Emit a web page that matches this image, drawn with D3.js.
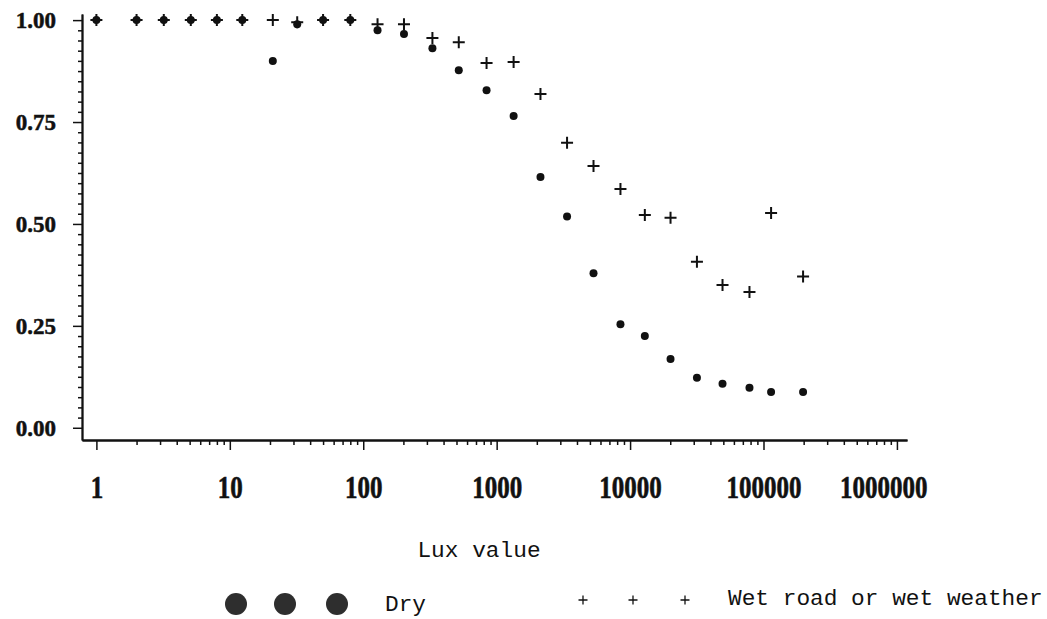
<!DOCTYPE html>
<html>
<head>
<meta charset="utf-8">
<script src="https://cdn.jsdelivr.net/npm/d3@7/dist/d3.min.js"></script>
<style>
  html, body { margin: 0; padding: 0; background: #ffffff; }
  svg { display: block; }
</style>
</head>
<body>
<svg id="chart" width="1047" height="619"></svg>
<script>
// Illuminance (lux) at which each share was measured
const luxValues = [1, 2, 3.2, 5.1, 8, 12.4, 21, 32, 50, 80, 128, 202, 330, 520, 840,
  1340, 2130, 3370, 5320, 8470, 12900, 20100, 31700, 49300, 78500, 114000, 198000];

// Share for dry conditions
const dryValues = [1.00, 1.00, 1.00, 1.00, 1.00, 1.00, 0.90, 0.99, 1.00, 1.00, 0.975, 0.966,
  0.931, 0.877, 0.828, 0.765, 0.615, 0.518, 0.379, 0.254, 0.225, 0.169, 0.123, 0.108,
  0.098, 0.088, 0.088];

// Share for wet road or wet weather
const wetValues = [1.00, 1.00, 1.00, 1.00, 1.00, 1.00, 1.00, 0.995, 1.00, 1.00, 0.99, 0.99,
  0.956, 0.946, 0.895, 0.897, 0.819, 0.699, 0.642, 0.586, 0.522, 0.515, 0.407, 0.350,
  0.333, 0.527, 0.371];

const seriesNames = ["Dry", "Wet road or wet weather"];
const xTickValues = [1, 10, 100, 1000, 10000, 100000, 1000000];
const yTickValues = [0, 0.25, 0.5, 0.75, 1.0];
const xAxisTitle = "Lux value";

const svg = d3.select("#chart");
const ink = "#111";

const x = d3.scaleLog().domain([0.78, 1.19e6]).range([82, 907]);
const y = d3.scaleLinear().domain([-0.03, 1.015]).range([440, 14]);

// minor ticks: 2..9 within each decade
const xMinor = [];
for (let e = 0; e < 6; e++) for (let m = 2; m <= 9; m++) xMinor.push(m * Math.pow(10, e));
const yMinor = d3.range(0, 41).map(i => i * 0.025).filter(v => Math.abs(v / 0.25 - Math.round(v / 0.25)) > 1e-6);

// X axis
const gxMinor = svg.append("g").attr("transform", `translate(0,${y.range()[0]})`)
  .call(d3.axisBottom(x).tickValues(xMinor).tickSize(5).tickSizeOuter(0).tickFormat(""));
const gx = svg.append("g").attr("transform", `translate(0,${y.range()[0]})`)
  .call(d3.axisBottom(x).tickValues(xTickValues).tickSize(10).tickSizeOuter(0)
    .tickFormat(d3.format("d")).tickPadding(0));

// Y axis
const gyMinor = svg.append("g").attr("transform", `translate(${x.range()[0]},0)`)
  .call(d3.axisLeft(y).tickValues(yMinor).tickSize(4).tickSizeOuter(0).tickFormat(""));
const gy = svg.append("g").attr("transform", `translate(${x.range()[0]},0)`)
  .call(d3.axisLeft(y).tickValues(yTickValues).tickSize(9).tickSizeOuter(0)
    .tickFormat(d3.format(".2f")).tickPadding(17));

[gx, gxMinor, gy, gyMinor].forEach(g => {
  g.select(".domain").attr("stroke", ink).attr("stroke-width", 1.8);
  g.selectAll(".tick line").attr("stroke", ink).attr("stroke-width", 1.5);
});

const serif = "'Liberation Serif', 'DejaVu Serif', serif";

gy.selectAll(".tick text")
  .attr("fill", ink)
  .attr("stroke", ink).attr("stroke-width", 0.5)
  .style("font-family", serif)
  .style("font-weight", "bold")
  .style("font-size", "23px")
  .attr("dy", "0.34em");

// x tick labels: tall bold serif, kept inside the right edge
const labelRight = 927;
gx.selectAll(".tick text")
  .attr("fill", ink)
  .attr("stroke", ink).attr("stroke-width", 0.5)
  .attr("y", 0)
  .attr("dy", 0)
  .style("font-family", serif)
  .style("font-weight", "bold")
  .style("font-size", "25px")
  .each(function (d) {
    const w = this.getComputedTextLength();
    const cx = x(d);
    const shift = Math.min(0, labelRight - (cx + w / 2));
    d3.select(this).attr("transform", `translate(${shift},58) scale(1,1.25)`);
  });

// Data marks
const dryData = luxValues.map((l, i) => ({ lux: l, v: dryValues[i] }));
const wetData = luxValues.map((l, i) => ({ lux: l, v: wetValues[i] }));

svg.append("g").selectAll("circle").data(dryData).join("circle")
  .attr("cx", d => x(d.lux)).attr("cy", d => y(d.v)).attr("r", 4)
  .attr("fill", ink);

const plus = "M-6,0H6M0,-6V6";
svg.append("g").selectAll("path").data(wetData).join("path")
  .attr("d", plus)
  .attr("transform", d => `translate(${x(d.lux)},${y(d.v)})`)
  .attr("stroke", ink).attr("stroke-width", 2).attr("fill", "none");

// Axis title
const mono = "'Liberation Mono', 'DejaVu Sans Mono', monospace";
svg.append("text").text(xAxisTitle)
  .attr("x", 479).attr("y", 557).attr("text-anchor", "middle")
  .attr("fill", ink)
  .style("font-family", mono).style("font-size", "22.8px");

// Legend
const legend = svg.append("g");
[236, 285, 337].forEach(cx => {
  legend.append("circle").attr("cx", cx).attr("cy", 604).attr("r", 11).attr("fill", "#2e2e2e");
});
legend.append("text").text(seriesNames[0])
  .attr("x", 385).attr("y", 611).attr("fill", ink)
  .style("font-family", mono).style("font-size", "22.8px");
[583, 633, 685].forEach(cx => {
  legend.append("path").attr("d", "M-4.5,0H4.5M0,-4.5V4.5")
    .attr("transform", `translate(${cx},600)`)
    .attr("stroke", ink).attr("stroke-width", 1.3).attr("fill", "none");
});
legend.append("text").text(seriesNames[1])
  .attr("x", 728).attr("y", 605).attr("fill", ink)
  .style("font-family", mono).style("font-size", "22.8px");
</script>
</body>
</html>
